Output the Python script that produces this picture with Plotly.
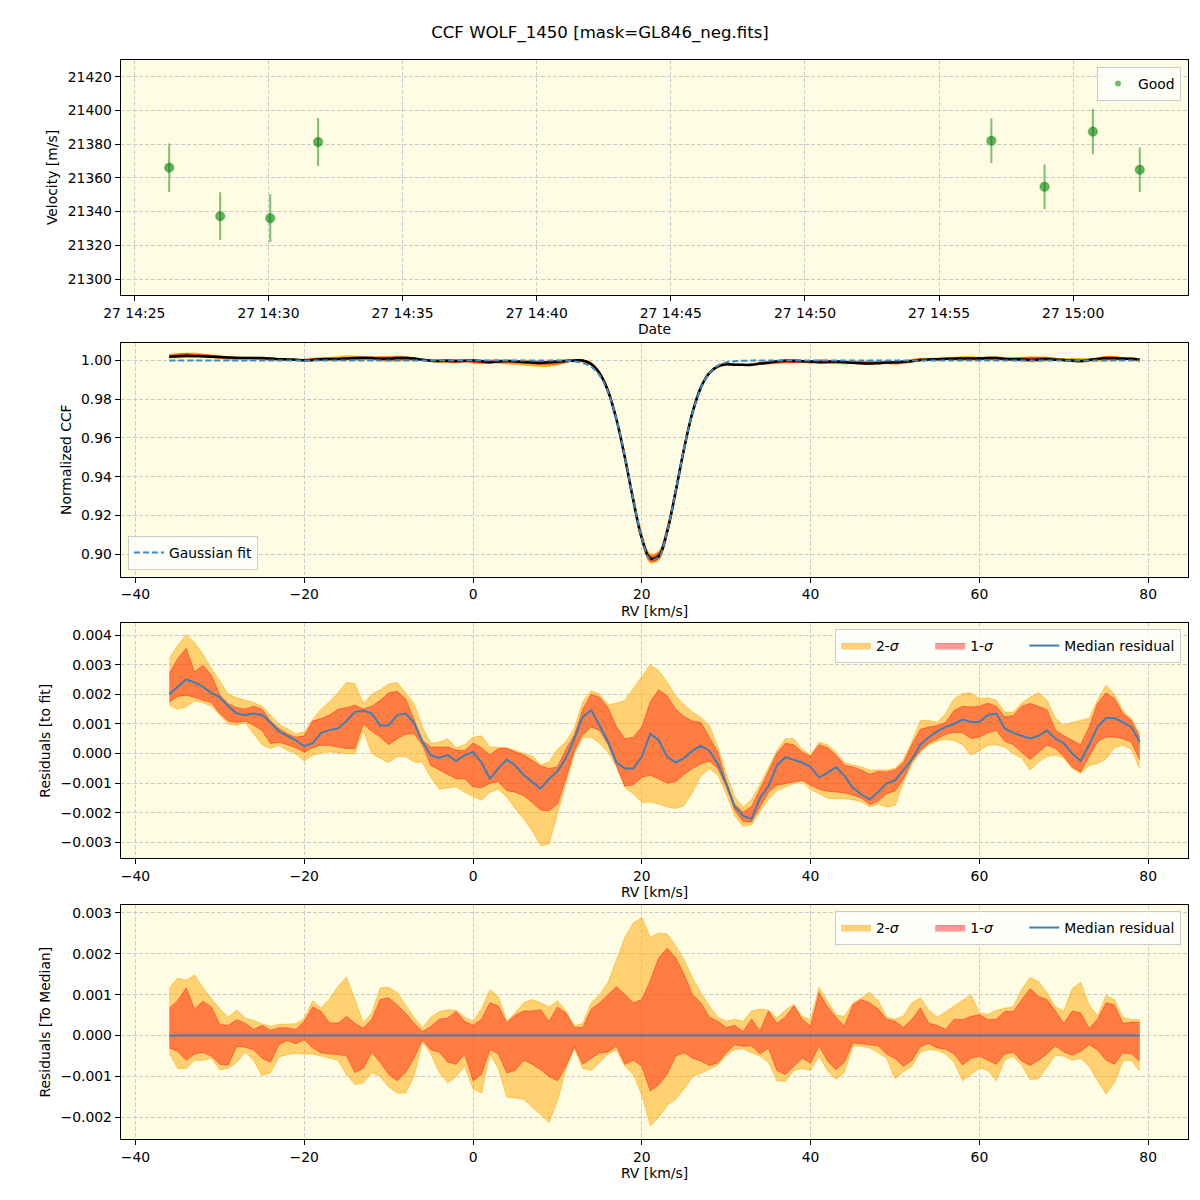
import plotly.graph_objects as go

# ---------------- Panel 1: velocities ----------------
obs_time = ["2023-08-27 14:26:18", "2023-08-27 14:28:12", "2023-08-27 14:30:04", "2023-08-27 14:31:51",
            "2023-08-27 14:56:57", "2023-08-27 14:58:56", "2023-08-27 15:00:44", "2023-08-27 15:02:29"]
obs_rv = [21366.1, 21337.3, 21336.1, 21381.3, 21382.1, 21354.8, 21387.5, 21364.9]
obs_err = [14.4, 14.2, 14.2, 14.2, 13.2, 13.2, 13.5, 13.2]

# ---------------- RV grid (km/s) ----------------
rv_grid = list(range(-36, 80))

# Gaussian fit of the CCF
gauss_fit = [
    1.0, 1.0, 1.0, 1.0, 1.0, 1.0, 1.0, 1.0, 1.0, 1.0,
    1.0, 1.0, 1.0, 1.0, 1.0, 1.0, 1.0, 1.0, 1.0, 1.0,
    1.0, 1.0, 1.0, 1.0, 1.0, 1.0, 1.0, 1.0, 1.0, 1.0,
    1.0, 1.0, 1.0, 1.0, 1.0, 1.0, 1.0, 1.0, 1.0, 1.0,
    1.0, 1.0, 1.0, 1.0, 1.0, 1.0, 1.0, 0.9999, 0.9996, 0.9988,
    0.9968, 0.9924, 0.9838, 0.9697, 0.9502, 0.9280, 0.9082, 0.8971, 0.8984, 0.9117,
    0.9324, 0.9545, 0.9730, 0.9859, 0.9935, 0.9974, 0.9991, 0.9997, 0.9999, 1.0,
    1.0, 1.0, 1.0, 1.0, 1.0, 1.0, 1.0, 1.0, 1.0, 1.0,
    1.0, 1.0, 1.0, 1.0, 1.0, 1.0, 1.0, 1.0, 1.0, 1.0,
    1.0, 1.0, 1.0, 1.0, 1.0, 1.0, 1.0, 1.0, 1.0, 1.0,
    1.0, 1.0, 1.0, 1.0, 1.0, 1.0, 1.0, 1.0, 1.0, 1.0,
    1.0, 1.0, 1.0, 1.0, 1.0, 1.0,
]

# ---------------- Panel 3: residuals to fit (units of 1e-3) ----------------
res_med = [
    2.0, 2.25, 2.5, 2.4, 2.25, 2.05, 1.9, 1.6, 1.35, 1.3,
    1.35, 1.3, 1.05, 0.75, 0.6, 0.45, 0.25, 0.35, 0.7, 0.8,
    0.85, 1.1, 1.4, 1.45, 1.35, 0.95, 0.95, 1.3, 1.35, 1.05,
    0.4, -0.05, -0.15, -0.05, -0.25, -0.05, 0.05, -0.3, -0.85, -0.5,
    -0.2, -0.4, -0.72, -0.95, -1.18, -0.85, -0.6, -0.15, 0.5, 1.24,
    1.46, 0.95, 0.4, -0.3, -0.5, -0.5, -0.1, 0.67, 0.45, -0.11,
    -0.3, -0.15, 0.1, 0.26, 0.1, -0.35, -1.0, -1.78, -2.1, -2.2,
    -1.5, -1.1, -0.4, -0.12, -0.2, -0.3, -0.45, -0.8, -0.65, -0.45,
    -0.75, -1.15, -1.37, -1.55, -1.3, -1.0, -0.9, -0.55, -0.2, 0.3,
    0.55, 0.75, 0.9, 1.0, 1.15, 1.07, 1.07, 1.3, 1.35, 0.85,
    0.7, 0.6, 0.51, 0.6, 0.78, 0.5, 0.35, 0.0, -0.25, 0.3,
    0.9, 1.2, 1.2, 1.05, 0.9, 0.4,
]
res_1hi = [
    2.7, 3.2, 3.55, 2.75, 2.98, 2.64, 1.97, 1.68, 1.55, 1.5,
    1.6, 1.5, 1.1, 0.85, 0.67, 0.55, 0.6, 1.1, 1.18, 1.3,
    1.5, 1.55, 1.63, 1.5, 1.6, 1.8, 2.05, 2.1, 1.85, 1.15,
    0.45, 0.22, 0.22, 0.22, 0.12, 0.1, 0.36, 0.2, -0.05, 0.17,
    0.17, 0.05, -0.05, -0.22, -0.42, -0.5, -0.45, 0.15, 0.62, 1.5,
    2.0, 1.9, 1.55, 0.9, 0.5, 0.55, 0.9, 1.75, 2.15, 1.95,
    1.5, 1.25, 1.1, 1.05, 0.55, 0.05, -0.95, -1.72, -1.97, -1.78,
    -1.2, -0.62, 0.0, 0.35, 0.3, 0.05, -0.1, 0.3, 0.2, -0.05,
    -0.39, -0.45, -0.55, -0.7, -0.6, -0.62, -0.55, -0.3, 0.3, 0.82,
    0.9, 0.95, 1.05, 1.45, 1.6, 1.57, 1.6, 1.7, 1.6, 1.24,
    1.28, 1.6, 1.69, 1.6, 1.48, 0.8, 0.6, 0.45, 0.3, 0.9,
    1.7, 2.05, 1.85, 1.35, 1.12, 0.56,
]
res_1lo = [
    1.74, 1.93, 1.97, 1.9, 1.8, 1.72, 1.35, 1.1, 1.05, 1.1,
    0.96, 0.78, 0.34, 0.38, 0.3, 0.2, 0.05, 0.2, 0.28, 0.28,
    0.22, 0.17, 0.17, 1.0, 0.75, 0.56, 0.3, 0.5, 0.65, 0.67,
    0.3, -0.4, -0.55, -0.7, -0.85, -0.85, -1.12, -1.15, -1.0, -0.95,
    -1.25, -1.3, -1.42, -1.65, -1.9, -1.93, -1.7, -0.85, 0.1, 0.65,
    0.9, 0.78, 0.3, -0.4, -1.1, -1.05, -0.8, -0.73, -0.85, -1.0,
    -0.95, -0.7, -0.5, -0.34, -0.25, -0.5, -1.12, -1.9, -2.3, -2.3,
    -1.8, -1.3, -1.07, -1.02, -0.95, -0.9, -1.07, -1.2, -1.27, -1.3,
    -1.32, -1.4, -1.5, -1.72, -1.6, -1.35, -1.26, -0.85, -0.25, 0.1,
    0.35, 0.5, 0.65, 0.72, 0.7, 0.51, 0.56, 0.7, 0.78, 0.42,
    0.3, 0.05, -0.2, 0.05, 0.28, 0.18, -0.1, -0.45, -0.62, -0.1,
    0.4, 0.56, 0.56, 0.5, 0.39, -0.22,
]
res_2hi = [
    3.2, 3.65, 4.0, 3.75, 3.35, 2.87, 2.45, 2.0, 1.88, 1.8,
    1.72, 1.6, 1.3, 1.0, 0.84, 0.67, 0.73, 1.15, 1.5, 1.75,
    2.05, 2.4, 2.36, 1.69, 2.0, 2.15, 2.35, 2.4, 2.05, 1.69,
    0.9, 0.34, 0.39, 0.5, 0.2, 0.3, 0.55, 0.6, 0.22, 0.2,
    0.2, 0.1, 0.0, -0.08, -0.38, -0.28, 0.15, 0.4, 0.85, 1.75,
    2.12, 2.0, 1.65, 1.7, 1.8, 2.2, 2.6, 3.0, 2.8, 2.4,
    1.95, 1.65, 1.4, 1.22, 0.95, 0.22, -0.7, -1.46, -1.8, -1.55,
    -1.05, -0.45, 0.1, 0.5, 0.5, 0.15, -0.05, 0.38, 0.3, 0.05,
    -0.3, -0.38, -0.45, -0.55, -0.55, -0.55, -0.5, -0.2, 0.4, 1.12,
    1.12, 1.05, 1.35, 1.85, 2.02, 2.05, 1.85, 1.88, 1.8, 1.4,
    1.4, 1.7, 1.9, 2.05, 1.8, 1.2, 0.95, 1.05, 1.12, 1.2,
    1.8, 2.3, 2.0, 1.45, 1.18, 0.67,
]
res_2lo = [
    1.63, 1.5, 1.57, 1.78, 1.72, 1.6, 1.3, 1.0, 0.95, 1.05,
    0.67, 0.3, 0.17, 0.28, 0.11, 0.0, -0.25, -0.05, 0.02, 0.06,
    0.03, 0.0, 0.0, 0.8, 0.0, -0.15, -0.3, -0.1, -0.1, -0.28,
    -0.3, -0.8, -1.2, -1.15, -1.12, -1.3, -1.45, -1.57, -1.3, -1.2,
    -1.46, -1.85, -2.2, -2.6, -3.1, -3.05, -2.0, -1.0, 0.0, 0.55,
    0.55, 0.35, 0.05, -0.45, -1.15, -1.35, -1.65, -1.63, -1.7, -1.8,
    -1.85, -1.75, -1.3, -0.75, -0.5, -0.72, -1.35, -2.1, -2.45, -2.4,
    -1.95, -1.55, -1.25, -1.12, -1.0, -0.95, -1.22, -1.35, -1.5, -1.52,
    -1.52, -1.55, -1.62, -1.8, -1.7, -1.8, -1.75, -0.95, -0.35, 0.05,
    0.3, 0.42, 0.48, 0.45, 0.3, -0.05, 0.1, 0.28, 0.3, 0.22,
    0.0, -0.15, -0.55, -0.28, -0.1, -0.05, -0.15, -0.5, -0.66, -0.4,
    -0.33, -0.18, 0.2, 0.28, 0.15, -0.51,
]

# ---------------- Panel 4: residuals to median (units of 1e-3) ----------------
med_to_med = [0.0] * 116
tm_1hi = [
    0.67, 0.85, 1.16, 0.65, 0.84, 0.7, 0.27, 0.25, 0.39, 0.3,
    0.15, 0.25, 0.13, 0.19, 0.19, 0.15, 0.35, 0.7, 0.59, 0.31,
    0.3, 0.47, 0.3, 0.18, 0.4, 0.88, 0.92, 0.75, 0.55, 0.3,
    0.1, 0.22, 0.4, 0.43, 0.59, 0.35, 0.25, 0.4, 0.8, 0.72,
    0.31, 0.5, 0.6, 0.6, 0.63, 0.35, 0.7, 0.55, 0.2, 0.2,
    0.65, 0.8, 1.0, 1.2, 1.0, 0.8, 0.88, 1.35, 1.9, 2.13,
    1.9, 1.5, 1.0, 0.8, 0.45, 0.35, 0.2, 0.25, 0.1, 0.4,
    0.12, 0.6, 0.3, 0.45, 0.73, 0.4, 0.23, 1.05, 0.7, 0.45,
    0.23, 0.75, 0.88, 0.8, 0.65, 0.4, 0.35, 0.2, 0.4, 0.68,
    0.3, 0.25, 0.15, 0.4, 0.39, 0.47, 0.51, 0.39, 0.4, 0.59,
    0.59, 0.88, 1.15, 0.96, 0.88, 0.6, 0.3, 0.6, 0.55, 0.18,
    0.4, 0.8, 0.75, 0.3, 0.33, 0.32,
]
tm_1lo = [
    -0.3, -0.38, -0.6, -0.45, -0.41, -0.5, -0.7, -0.72, -0.26, -0.28,
    -0.35, -0.55, -0.65, -0.22, -0.12, -0.2, -0.1, -0.3, -0.42, -0.45,
    -0.46, -0.5, -0.9, -0.8, -0.4, -0.65, -0.95, -1.1, -0.9, -0.55,
    -0.1, -0.35, -0.4, -0.65, -0.7, -0.45, -1.1, -0.95, -0.33, -0.45,
    -0.91, -0.85, -0.6, -0.7, -0.83, -1.0, -1.1, -0.75, -0.27, -0.7,
    -0.55, -0.42, -0.4, -0.25, -0.7, -0.6, -0.75, -1.35, -1.2, -0.95,
    -0.5, -0.42, -0.55, -0.62, -0.73, -0.66, -0.42, -0.22, -0.26, -0.25,
    -0.45, -0.3, -0.85, -0.95, -0.75, -0.55, -0.67, -0.25, -0.62, -0.83,
    -0.65, -0.18, -0.2, -0.22, -0.25, -0.45, -0.56, -0.75, -0.6, -0.27,
    -0.19, -0.3, -0.33, -0.45, -0.72, -0.55, -0.5, -0.6, -0.7, -0.45,
    -0.4, -0.62, -0.73, -0.6, -0.45, -0.25, -0.4, -0.48, -0.38, -0.22,
    -0.35, -0.6, -0.7, -0.42, -0.45, -0.62,
]
tm_2hi = [
    1.16, 1.4, 1.35, 1.48, 1.16, 0.9, 0.65, 0.45, 0.62, 0.43,
    0.37, 0.28, 0.23, 0.27, 0.28, 0.29, 0.42, 0.85, 0.67, 0.9,
    1.2, 1.43, 0.88, 0.31, 0.55, 1.16, 1.18, 1.05, 0.75, 0.45,
    0.19, 0.45, 0.58, 0.63, 0.62, 0.45, 0.35, 0.65, 1.12, 0.95,
    0.35, 0.55, 0.8, 0.88, 0.8, 0.7, 0.85, 0.6, 0.24, 0.3,
    0.8, 1.0, 1.3, 1.85, 2.4, 2.75, 2.88, 2.4, 2.5, 2.48,
    2.2, 1.85, 1.4, 1.04, 0.72, 0.45, 0.35, 0.4, 0.35, 0.6,
    0.65, 0.62, 0.43, 0.62, 0.76, 0.47, 0.39, 1.18, 0.85, 0.5,
    0.47, 0.79, 0.92, 1.06, 0.85, 0.45, 0.4, 0.48, 0.8, 0.92,
    0.62, 0.45, 0.58, 0.72, 0.88, 1.0, 0.55, 0.52, 0.62, 0.67,
    0.71, 1.12, 1.42, 1.32, 1.05, 0.7, 0.6, 1.15, 1.3, 0.75,
    0.48, 0.98, 0.88, 0.45, 0.39, 0.39,
]
tm_2lo = [
    -0.42, -0.8, -0.8, -0.6, -0.6, -0.55, -0.83, -0.8, -0.65, -0.4,
    -0.6, -0.98, -0.9, -0.52, -0.46, -0.43, -0.45, -0.45, -0.5, -0.55,
    -0.6, -0.95, -1.19, -1.15, -0.9, -1.0, -1.25, -1.4, -1.4, -1.0,
    -0.15, -0.45, -0.9, -1.15, -1.0, -0.75, -1.3, -1.4, -0.45, -0.8,
    -1.5, -1.52, -1.55, -1.75, -1.92, -2.12, -1.6, -0.8, -0.32, -0.8,
    -0.85, -0.65, -0.45, -0.35, -0.75, -0.95, -1.45, -2.2, -2.0, -1.7,
    -1.55, -1.3, -1.0, -0.92, -0.82, -0.72, -0.48, -0.34, -0.32, -0.42,
    -0.5, -0.65, -1.1, -1.12, -0.85, -0.8, -0.85, -0.5, -0.85, -1.07,
    -0.9, -0.25, -0.26, -0.3, -0.42, -0.55, -1.05, -0.88, -0.75, -0.4,
    -0.34, -0.36, -0.45, -0.65, -1.1, -0.95, -0.79, -0.85, -1.1, -0.6,
    -0.5, -0.71, -1.07, -1.05, -0.78, -0.48, -0.5, -0.6, -0.55, -0.75,
    -1.1, -1.42, -1.15, -0.62, -0.6, -0.87,
]

S = 1e-3
sc = lambda arr: [v * S for v in arr]
ccf = [g + m * S for g, m in zip(gauss_fit, res_med)]
ccf_2lo = [c + v * S for c, v in zip(ccf, tm_2lo)]
ccf_2hi = [c + v * S for c, v in zip(ccf, tm_2hi)]
ccf_1lo = [c + v * S for c, v in zip(ccf, tm_1lo)]
ccf_1hi = [c + v * S for c, v in zip(ccf, tm_1hi)]

C2 = "rgba(255,165,0,0.5)"
C1 = "rgba(255,0,0,0.4)"
BLUE = "#3f7fb5"
FONT = "DejaVu Sans"
FS = 13.9
NB = "\u00a0"

# page offset compensation (browser body margin)
OFF = 8.0
def px_x(x):
    return (x - OFF) / 1200.0
def px_y(y):
    return 1.0 - (y - OFF) / 1200.0

fig = go.Figure()

# Panel 1
fig.add_trace(go.Scatter(
    x=obs_time, y=obs_rv, mode="markers", name="Good", showlegend=False,
    error_y=dict(type="data", array=obs_err, color="rgba(0,128,0,0.5)", thickness=2, width=0),
    marker=dict(color="rgba(0,128,0,0.6)", size=9, line=dict(color="rgba(0,128,0,0.35)", width=1.5)),
    xaxis="x", yaxis="y", legend="legend"))
# legend proxy (small dot like the reference legend)
fig.add_trace(go.Scatter(
    x=[None], y=[None], mode="markers", name="Good",
    marker=dict(color="rgba(0,128,0,0.55)", size=6),
    xaxis="x", yaxis="y", legend="legend"))

def band(x, lo, hi, color, name, show, xa, ya, leg, shape="linear"):
    fig.add_trace(go.Scatter(x=x, y=lo, mode="lines", line=dict(color=color, width=1, shape=shape),
                             showlegend=False, hoverinfo="skip", xaxis=xa, yaxis=ya, legend=leg))
    fig.add_trace(go.Scatter(x=x, y=hi, mode="lines", line=dict(color=color, width=1, shape=shape),
                             fill="tonexty", fillcolor=color, name=name, showlegend=show,
                             xaxis=xa, yaxis=ya, legend=leg))

# Panel 2
band(rv_grid, ccf_2lo, ccf_2hi, "rgba(255,165,0,0.8)", "2σ", False, "x2", "y2", "legend2", "spline")
band(rv_grid, ccf_1lo, ccf_1hi, "rgba(255,40,0,0.6)", "1σ", False, "x2", "y2", "legend2", "spline")
fig.add_trace(go.Scatter(x=rv_grid, y=ccf, mode="lines", line=dict(color="black", width=2.5, shape="spline"),
                         showlegend=False, xaxis="x2", yaxis="y2", legend="legend2"))
fig.add_trace(go.Scatter(x=rv_grid, y=gauss_fit, mode="lines", name="Gaussian fit",
                         line=dict(color="#3d8ac6", width=2, dash="6px,3px", shape="spline"),
                         xaxis="x2", yaxis="y2", legend="legend2"))

# Panel 3
band(rv_grid, sc(res_2lo), sc(res_2hi), C2, "2-<i>σ</i>" + NB * 6, True, "x3", "y3", "legend3")
band(rv_grid, sc(res_1lo), sc(res_1hi), C1, "1-<i>σ</i>" + NB * 6, True, "x3", "y3", "legend3")
fig.add_trace(go.Scatter(x=rv_grid, y=sc(res_med), mode="lines", name="Median residual",
                         line=dict(color=BLUE, width=2), xaxis="x3", yaxis="y3", legend="legend3"))

# Panel 4
band(rv_grid, sc(tm_2lo), sc(tm_2hi), C2, "2-<i>σ</i>" + NB * 6, True, "x4", "y4", "legend4")
band(rv_grid, sc(tm_1lo), sc(tm_1hi), C1, "1-<i>σ</i>" + NB * 6, True, "x4", "y4", "legend4")
fig.add_trace(go.Scatter(x=rv_grid, y=med_to_med, mode="lines", name="Median residual",
                         line=dict(color=BLUE, width=2), xaxis="x4", yaxis="y4", legend="legend4"))

ax = dict(showline=True, linecolor="black", linewidth=1, mirror=True, ticks="outside", ticklen=5,
          tickcolor="black", showgrid=True, gridcolor="#cccccc", griddash="4px,2px", gridwidth=1,
          zeroline=False, tickfont=dict(size=FS, color="black"), automargin=False)

XD = [px_x(120.7), px_x(1188.3)]
def ydom(top, bot):
    return [px_y(bot), px_y(top)]

rv_ax = dict(ax, range=[-41.75, 84.75], tick0=0, dtick=20,
             title=dict(text="RV [km/s]", font=dict(size=FS, color="black"), standoff=4))

leg_common = dict(bgcolor="rgba(255,255,255,0.8)", bordercolor="#cccccc", borderwidth=1,
                  traceorder="normal", font=dict(size=FS, color="black", family=FONT))

fig.update_layout(
    width=1200, height=1200, margin=dict(l=0, r=0, t=0, b=0),
    paper_bgcolor="white", plot_bgcolor="#fefce3",
    font=dict(family=FONT, size=FS, color="black"),
    title=dict(text="CCF WOLF_1450 [mask=GL846_neg.fits]", x=px_x(600), xanchor="center",
               y=px_y(32), yanchor="middle", font=dict(size=16.6, color="black")),
    xaxis=dict(ax, domain=XD, anchor="y", type="date",
               range=["2023-08-27 14:24:29.5", "2023-08-27 15:04:17.5"],
               tick0="2023-08-27 14:25:00", dtick=300000, tickformat="%d %H:%M",
               title=dict(text="Date", font=dict(size=FS, color="black"), standoff=4)),
    yaxis=dict(ax, domain=ydom(60, 295), anchor="x", range=[21290.5, 21430], tick0=21300, dtick=20,
               tickformat="d",
               title=dict(text="Velocity [m/s]", font=dict(size=FS, color="black"), standoff=6)),
    xaxis2=dict(rv_ax, domain=XD, anchor="y2"),
    yaxis2=dict(ax, domain=ydom(342.7, 576.7), anchor="x2", range=[0.8883, 1.00926], tick0=0.9,
                dtick=0.02, tickformat=".2f",
                title=dict(text="Normalized CCF", font=dict(size=FS, color="black"), standoff=6)),
    xaxis3=dict(rv_ax, domain=XD, anchor="y3"),
    yaxis3=dict(ax, domain=ydom(623.3, 858.3), anchor="x3", range=[-0.003531, 0.004395], tick0=0,
                dtick=0.001, tickformat=".3f",
                title=dict(text="Residuals [to fit]", font=dict(size=FS, color="black"), standoff=6)),
    xaxis4=dict(rv_ax, domain=XD, anchor="y4"),
    yaxis4=dict(ax, domain=ydom(905, 1139.3), anchor="x4", range=[-0.00253, 0.003187], tick0=0,
                dtick=0.001, tickformat=".3f",
                title=dict(text="Residuals [To Median]", font=dict(size=FS, color="black"), standoff=6)),
    legend=dict(leg_common, x=px_x(1181), y=px_y(67), xanchor="right", yanchor="top"),
    legend2=dict(leg_common, x=px_x(128), y=px_y(570), xanchor="left", yanchor="bottom"),
    legend3=dict(leg_common, x=px_x(1181), y=px_y(629), xanchor="right", yanchor="top",
                 orientation="h"),
    legend4=dict(leg_common, x=px_x(1181), y=px_y(911), xanchor="right", yanchor="top",
                 orientation="h"),
    showlegend=True,
)

fig.write_html("out.html")
